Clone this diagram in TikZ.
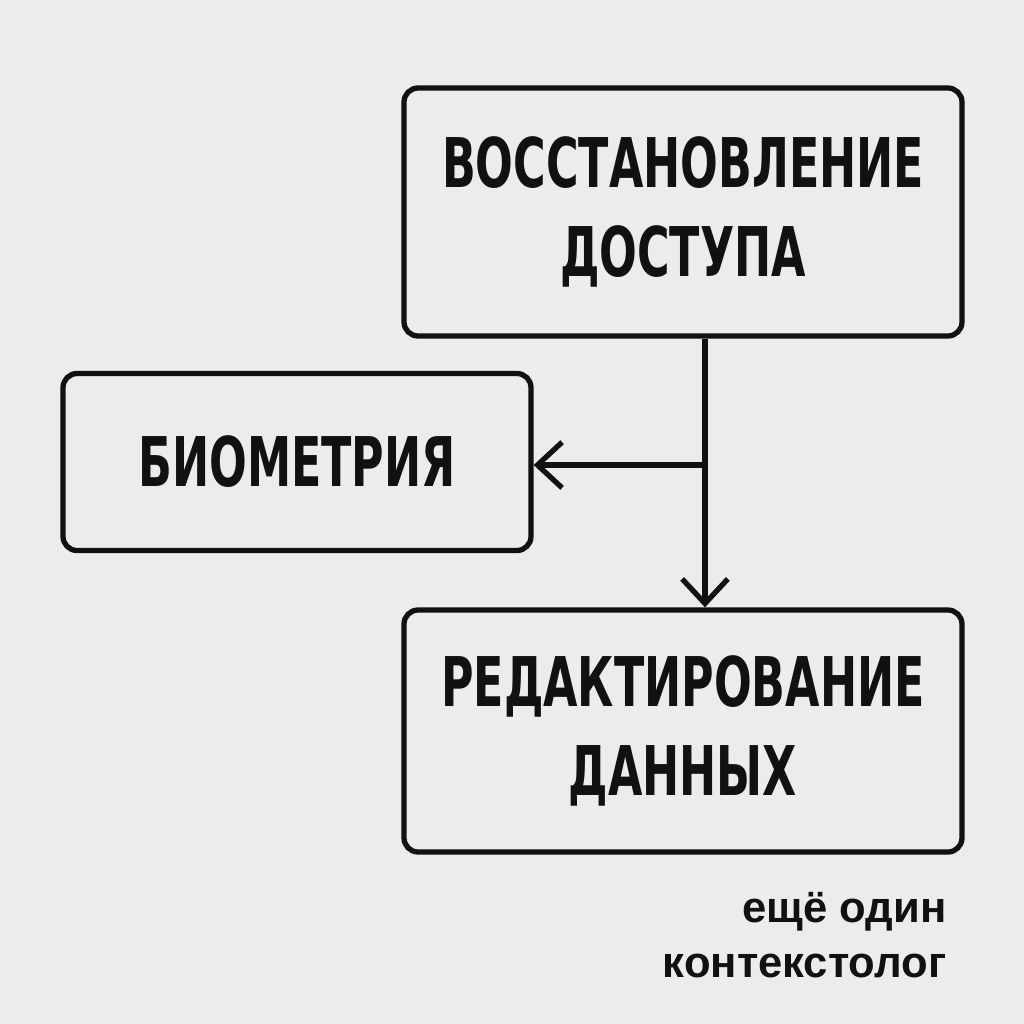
\documentclass[tikz,border=0pt]{standalone}
\usepackage{fontspec}
\setmainfont{Liberation Sans}
\newfontfamily\boxfont{DejaVu Sans Condensed}[FakeStretch=0.72]
\usetikzlibrary{arrows.meta}
\usetikzlibrary{positioning}
\definecolor{paper}{HTML}{ECECEB}
\definecolor{ink}{HTML}{111111}
\tikzset{
  block/.style={rectangle,draw=ink,line width=1.5pt,rounded corners=4pt,align=center,
    font=\boxfont\bfseries\fontsize{19.5}{25.5}\selectfont,text=ink},
  link/.style={draw=ink,line width=1.5pt,-{Straight Barb[length=7pt,width=13pt,line width=1.5pt]}}
}
\begin{document}
\begin{tikzpicture}
\fill[paper] (0,0) rectangle (10.24,-10.24);
\useasboundingbox (0,0) rectangle (10.24,-10.24);
\node at (6.83,-2.12)[block,minimum width=5.58cm,minimum height=2.48cm](access){ВОССТАНОВЛЕНИЕ\\ДОСТУПА};
\node at (2.97,-4.62)[block,minimum width=4.68cm,minimum height=1.77cm](bio){БИОМЕТРИЯ};
\node at (6.83,-7.31)[block,minimum width=5.58cm,minimum height=2.42cm](edit){РЕДАКТИРОВАНИЕ\\ДАННЫХ};
\coordinate (split) at (7.05,-4.65);
\draw[link] (split |- access.south) -- (split |- edit.north);
\draw[link] (split) -- (split -| bio.east);
\node at (9.47,-9.35)[anchor=east,align=right,inner sep=0pt,font=\bfseries\fontsize{12.4}{15.5}\selectfont,text=ink](sign){ещё один\\контекстолог};
\end{tikzpicture}
\end{document}
